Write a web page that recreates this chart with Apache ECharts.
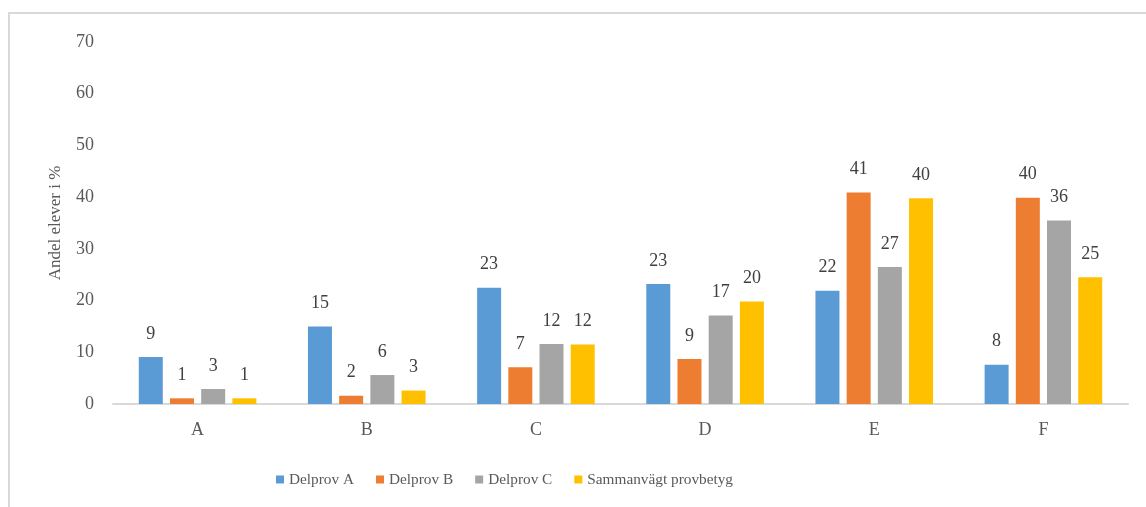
<html lang="sv">
<head>
    <meta charset="utf-8">
    <title>Andel elever</title>
    <script src="https://cdn.jsdelivr.net/npm/echarts@6.0.0/dist/echarts.min.js"></script>
    <style>
        html, body { margin: 0; padding: 0; background: #fff; }
    </style>
</head>
<body>
    <div id="chart" style="width: 1146px; height: 507px;"></div>
    <script type="text/javascript">
        // Data
        var categories = ['A', 'B', 'C', 'D', 'E', 'F'];
        var seriesNames = ['Delprov A', 'Delprov B', 'Delprov C', 'Sammanvägt provbetyg'];
        var delprovA = [9.1, 15.0, 22.5, 23.2, 21.9, 7.6];
        var delprovB = [1.1, 1.6, 7.1, 8.7, 40.9, 39.9];
        var delprovC = [2.9, 5.6, 11.6, 17.1, 26.5, 35.5];
        var sammanvagt = [1.1, 2.6, 11.5, 19.8, 39.8, 24.5];
        var colors = ['#5b9bd5', '#ed7d31', '#a5a5a5', '#ffc000'];

        var font = 'Liberation Serif';
        var textColor = '#595959';

        function makeSeries(name, data, color) {
            return {
                name: name,
                type: 'bar',
                data: data,
                barWidth: 24,
                barGap: '30%',
                itemStyle: { color: color },
                label: {
                    show: true,
                    position: 'top',
                    distance: 14,
                    fontFamily: font,
                    fontSize: 18,
                    color: '#404040',
                    formatter: function (p) { return Math.round(p.value); }
                }
            };
        }

        var chart = echarts.init(document.getElementById('chart'));
        var option = {
            animation: false,
            textStyle: { fontFamily: font },
            graphic: [{
                type: 'polyline',
                shape: { points: [[9, 507], [9, 13], [1146, 13]] },
                style: { stroke: '#d9d9d9', lineWidth: 2, fill: null }
            }],
            grid: { left: 113, right: 18, top: 42, bottom: 103 },
            legend: {
                left: 271,
                top: 467,
                itemWidth: 8,
                itemHeight: 8,
                itemGap: 22,
                icon: 'rect',
                textStyle: { fontFamily: font, fontSize: 15.3, color: textColor },
                data: seriesNames
            },
            xAxis: {
                type: 'category',
                data: categories,
                axisLine: { lineStyle: { color: '#d9d9d9', width: 2 } },
                axisTick: { show: false },
                axisLabel: { fontFamily: font, fontSize: 18, color: textColor, margin: 17 }
            },
            yAxis: {
                type: 'value',
                min: 0,
                max: 70,
                interval: 10,
                name: 'Andel elever i %',
                nameLocation: 'middle',
                nameGap: 49,
                nameTextStyle: { fontFamily: font, fontSize: 17, color: textColor },
                axisLine: { show: false },
                axisTick: { show: false },
                splitLine: { show: false },
                axisLabel: { fontFamily: font, fontSize: 18, color: textColor, margin: 19 }
            },
            series: [
                makeSeries(seriesNames[0], delprovA, colors[0]),
                makeSeries(seriesNames[1], delprovB, colors[1]),
                makeSeries(seriesNames[2], delprovC, colors[2]),
                makeSeries(seriesNames[3], sammanvagt, colors[3])
            ]
        };
        chart.setOption(option);
    </script>
</body>
</html>
